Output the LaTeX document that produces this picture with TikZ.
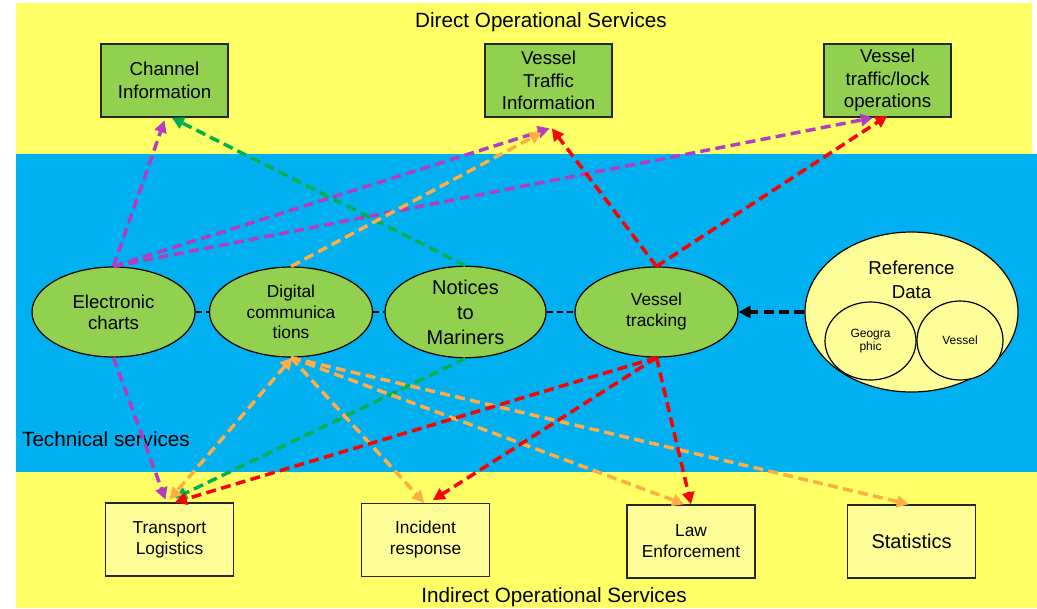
\documentclass[tikz,border=0pt]{standalone}
\usepackage{fontspec}
\setmainfont{Liberation Sans}
\usetikzlibrary{arrows.meta,shapes.geometric}

\definecolor{bandyellow}{HTML}{FFFF66}
\definecolor{bandblue}{HTML}{00B0F0}
\definecolor{leafgreen}{HTML}{92D050}
\definecolor{paleyellow}{HTML}{FFFF99}
\definecolor{linkpurple}{HTML}{B43CC0}
\definecolor{linkgreen}{HTML}{00B050}
\definecolor{linkorange}{HTML}{FFAD45}
\definecolor{linkred}{HTML}{FF0000}

\tikzset{
  svcbox/.style={draw=black!85, line width=1.1pt, fill=leafgreen, minimum width=95.25pt,
    minimum height=54.75pt, inner sep=0pt, align=center, font=\fontsize{14}{16.8}\selectfont},
  outbox/.style={draw=black!85, line width=1.1pt, fill=paleyellow, minimum width=96pt,
    minimum height=54.75pt, inner sep=0pt, align=center, font=\fontsize{13}{15.75}\selectfont},
  techell/.style={ellipse, draw=black, line width=0.9pt, fill=leafgreen, minimum width=122.25pt,
    minimum height=67.5pt, inner sep=0pt, align=center},
  refell/.style={ellipse, draw=black, line width=0.9pt, fill=paleyellow, inner sep=0pt, align=center},
  tip/.style={-{Triangle[length=9pt,width=9pt]}},
  link/.style={line width=2.6pt, dash pattern=on 7.5pt off 4pt, tip},
  plink/.style={link, draw=linkpurple},
  glink/.style={link, draw=linkgreen},
  olink/.style={link, draw=linkorange},
  rlink/.style={link, draw=linkred},
  chain/.style={draw=black, line width=1.6pt, dash pattern=on 4.5pt off 3pt},
  bandlabel/.style={font=\fontsize{15.5}{18}\selectfont, inner sep=0pt},
}

\begin{document}
\begin{tikzpicture}[x=0.75pt, y=-0.75pt]
  \useasboundingbox (0,0) rectangle (1037,608);
  \fill[white] (0,0) rectangle (1037,608);

  % service bands
  \fill[bandyellow] (16,3) rectangle (1032,154);
  \fill[bandblue] (16,154) rectangle (1037,472);
  \fill[bandyellow] (16,472) rectangle (1037,608);

  \node[bandlabel] (directlbl) at (541,22) {Direct Operational Services};
  \node[bandlabel] (techlbl) at (106,439) {Technical services};
  \node[bandlabel] (indirectlbl) at (554,597) {Indirect Operational Services};

  % direct operational services
  \node[svcbox] (ci) at (164.5,80.5) {Channel\\Information};
  \node[svcbox] (vti) at (548.5,80.5) {Vessel\\Traffic\\Information};
  \node[svcbox] (vtl) at (887.5,80.5) {Vessel\\traffic/lock\\operations};

  % technical services
  \node[techell, font=\fontsize{14}{16}\selectfont] (ec) at (113.5,312) {Electronic\\charts};
  \node[techell, font=\fontsize{13}{15.4}\selectfont] (dc) at (291,312) {Digital\\communica\\tions};
  \node[techell, minimum width=120.75pt, font=\fontsize{15}{18.75}\selectfont] (nm) at (465.5,312) {Notices\\to\\Mariners};
  \node[techell, font=\fontsize{13}{15.75}\selectfont] (vt) at (656.5,312) {Vessel\\tracking};

  % reference data
  \node[refell, minimum width=159.75pt, minimum height=120pt] (rd) at (911.5,312) {};
  \node[refell, minimum width=68.25pt, minimum height=58.5pt, font=\fontsize{9}{10}\selectfont] (geo) at (870.5,341) {Geogra\\phic};
  \node[refell, minimum width=64.5pt, minimum height=59.25pt, font=\fontsize{9}{10}\selectfont] (ves) at (960,340.5) {Vessel};
  \node[align=center, inner sep=0pt, font=\fontsize{14}{18}\selectfont] (rdlbl) at (911.5,280) {Reference\\Data};

  % indirect operational services
  \node[outbox] (tl) at (169.5,539.5) {Transport\\Logistics};
  \node[outbox] (ir) at (425.5,540) {Incident\\response};
  \node[outbox] (le) at (691,541.5) {Law\\Enforcement};
  \node[outbox, font=\fontsize{15}{18}\selectfont] (st) at (911.5,541.5) {Statistics};

  % links between technical services
  \draw[chain] (ec.east) -- (dc.west);
  \draw[chain] (dc.east) -- (nm.west);
  \draw[chain] (nm.east) -- (vt.west);
  \draw[draw=black, line width=2.6pt, dash pattern=on 7.5pt off 4pt, tip] (rd.west) -- (vt.east);

  % electronic charts
  \draw[plink] (ec.north) -- ([yshift=-2pt]ci.south);
  \draw[plink] (ec.north) -- ([xshift=1pt,yshift=-8pt]vti.south);
  \draw[plink] (ec.north) -- ([xshift=-11pt]vtl.south);
  \draw[plink] (ec.south) -- ([xshift=-3pt,yshift=2pt]tl.north);

  % notices to mariners
  \draw[glink] (nm.north) -- ([xshift=5.5pt]ci.south);
  \draw[glink] (nm.south) -- ([xshift=4pt,yshift=3pt]tl.north);

  % digital communications
  \draw[olink] (dc.north) -- ([xshift=-5pt,yshift=-11pt]vti.south);
  \draw[olink, {Triangle[length=9pt,width=9pt]}-{Triangle[length=9pt,width=9pt]}] ([xshift=1pt]dc.south) -- ([yshift=2pt]tl.north);
  \draw[olink] (dc.south) -- ([xshift=-1pt]ir.north);
  \draw[olink] (dc.south) -- ([xshift=-5pt]le.north);
  \draw[olink] (dc.south) -- ([xshift=-2pt]st.north);

  % vessel tracking
  \draw[rlink] (vt.north) -- ([xshift=2.5pt,yshift=-8pt]vti.south);
  \draw[rlink] (vt.north) -- ([yshift=1.5pt]vtl.south);
  \draw[rlink] (vt.south) -- ([xshift=4pt]tl.north);
  \draw[rlink] (vt.south) -- ([xshift=5.5pt,yshift=2pt]ir.north);
  \draw[rlink] (vt.south) -- (le.north);
\end{tikzpicture}
\end{document}
